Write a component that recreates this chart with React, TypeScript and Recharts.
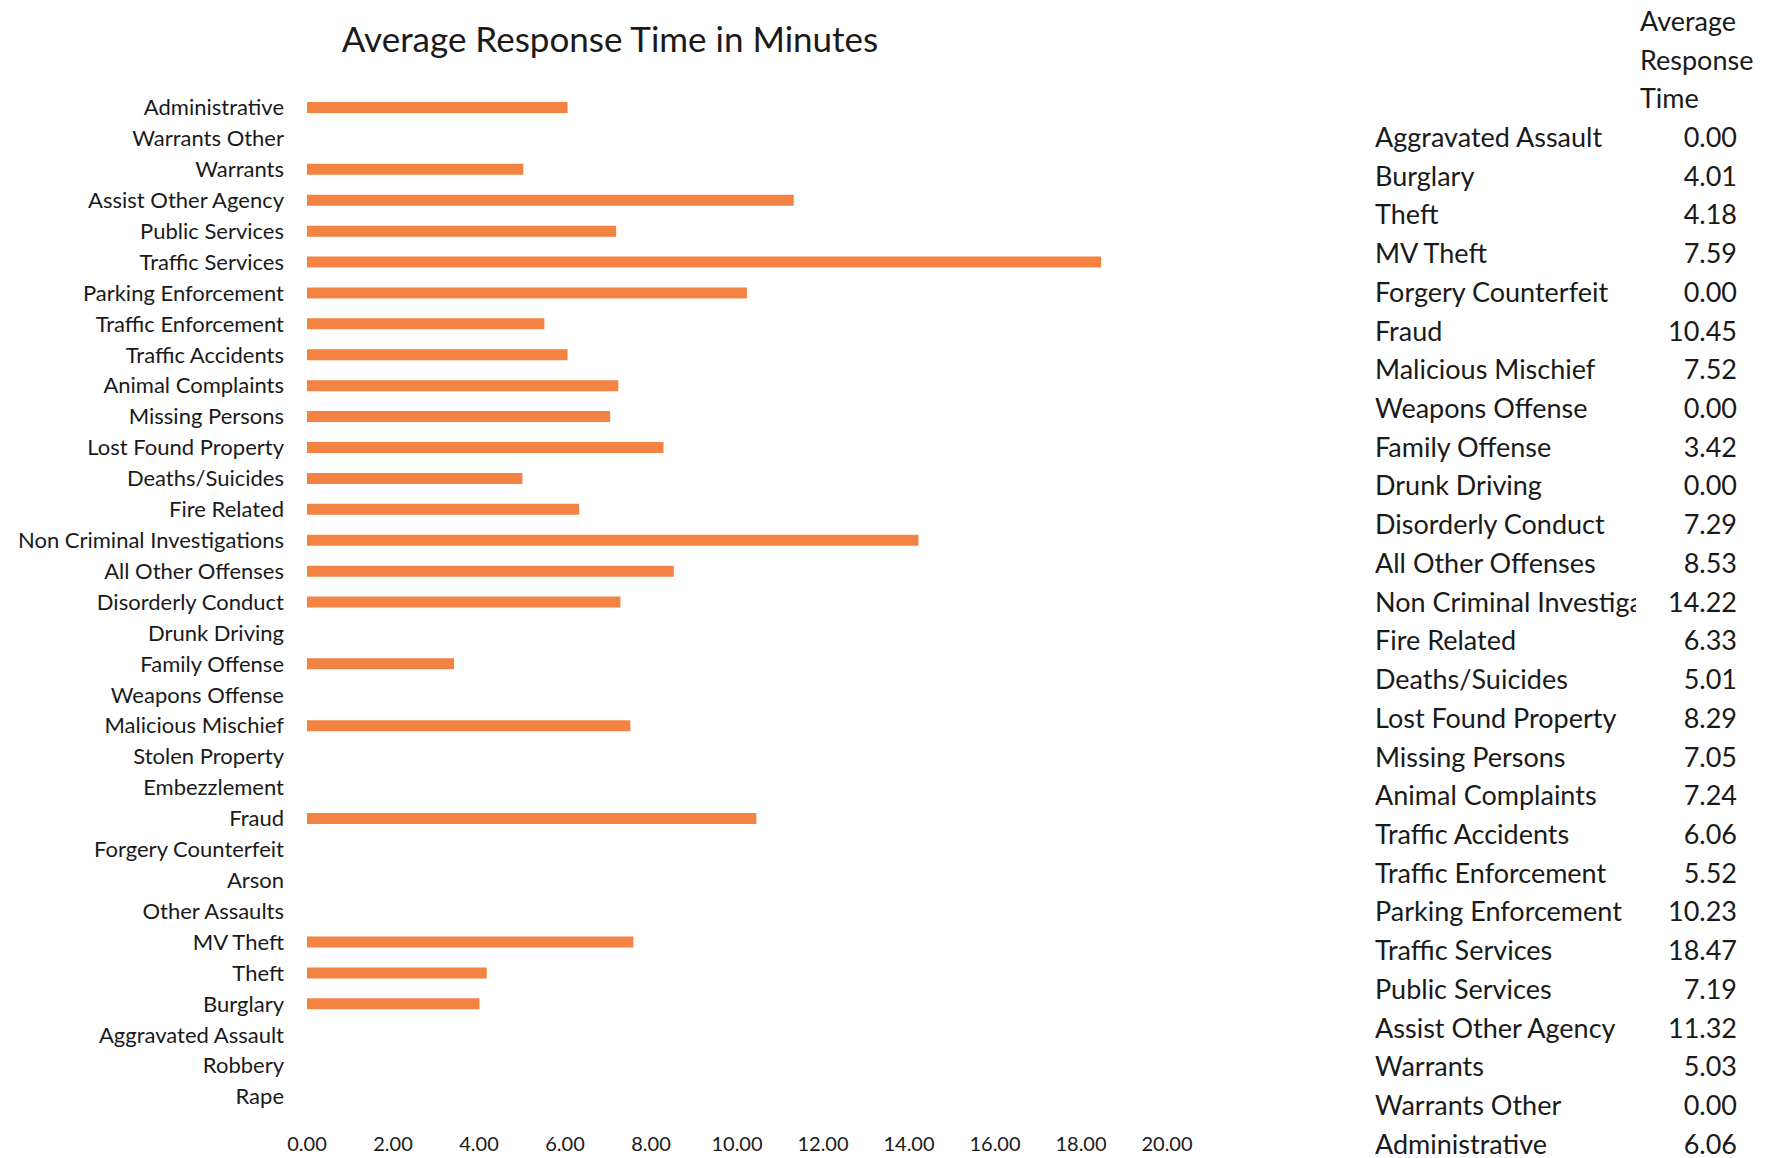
import React from "react";
import { BarChart, Bar, XAxis, YAxis } from "recharts";

// chart rows, top to bottom
const categories = [
  "Administrative", "Warrants Other", "Warrants", "Assist Other Agency", "Public Services",
  "Traffic Services", "Parking Enforcement", "Traffic Enforcement", "Traffic Accidents",
  "Animal Complaints", "Missing Persons", "Lost Found Property", "Deaths/Suicides",
  "Fire Related", "Non Criminal Investigations", "All Other Offenses", "Disorderly Conduct",
  "Drunk Driving", "Family Offense", "Weapons Offense", "Malicious Mischief", "Stolen Property",
  "Embezzlement", "Fraud", "Forgery Counterfeit", "Arson", "Other Assaults", "MV Theft",
  "Theft", "Burglary", "Aggravated Assault", "Robbery", "Rape",
];

const responseTimes = [
  6.06, 0, 5.03, 11.32, 7.19,
  18.47, 10.23, 5.52, 6.06,
  7.24, 7.05, 8.29, 5.01,
  6.33, 14.22, 8.53, 7.29,
  0, 3.42, 0, 7.52, 0,
  0, 10.45, 0, 0, 0, 7.59,
  4.18, 4.01, 0, 0, 0,
];

// rows shown in the side table, in its order
const tableCategories = [
  "Aggravated Assault", "Burglary", "Theft", "MV Theft", "Forgery Counterfeit", "Fraud",
  "Malicious Mischief", "Weapons Offense", "Family Offense", "Drunk Driving",
  "Disorderly Conduct", "All Other Offenses", "Non Criminal Investigations", "Fire Related",
  "Deaths/Suicides", "Lost Found Property", "Missing Persons", "Animal Complaints",
  "Traffic Accidents", "Traffic Enforcement", "Parking Enforcement", "Traffic Services",
  "Public Services", "Assist Other Agency", "Warrants", "Warrants Other", "Administrative",
];

const xTicks = [0, 2, 4, 6, 8, 10, 12, 14, 16, 18, 20];

const data = categories.map((name, i) => ({ name, value: responseTimes[i] }));

const FONT = "Lato, 'Open Sans', sans-serif";
const TEXT = "#1a1a1a";

export default function App() {
  return (
    <div
      style={{
        position: "absolute",
        left: 0,
        top: 0,
        width: 1771,
        height: 1158,
        background: "#fff",
        fontFamily: FONT,
        color: TEXT,
        overflow: "hidden",
      }}
    >
      <div
        style={{
          position: "absolute",
          left: 310,
          width: 600,
          top: 17,
          textAlign: "center",
          fontSize: 35,
          lineHeight: "42px",
        }}
      >
        Average Response Time in Minutes
      </div>

      <div style={{ position: "absolute", left: 0, top: 0 }}>
        <BarChart
          width={1200}
          height={1158}
          data={data}
          layout="vertical"
          margin={{ top: 92, right: 33, bottom: 0, left: 0 }}
          barCategoryGap={0}
        >
          <XAxis
            type="number"
            domain={[0, 20]}
            ticks={xTicks}
            tickFormatter={(v: number) => v.toFixed(2)}
            axisLine={false}
            tickLine={false}
            tickSize={0}
            tickMargin={25}
            height={46}
            interval={0}
            tick={{ fontSize: 20, fill: TEXT, fontFamily: FONT }}
          />
          <YAxis
            type="category"
            dataKey="name"
            width={307}
            axisLine={false}
            tickLine={false}
            tickSize={0}
            tickMargin={23}
            interval={0}
            tick={{ fontSize: 22, fill: TEXT, fontFamily: FONT }}
          />
          <Bar dataKey="value" fill="#F28343" barSize={11} isAnimationActive={false} />
        </BarChart>
      </div>

      <div
        style={{
          position: "absolute",
          left: 1640,
          top: 2,
          fontSize: 27,
          lineHeight: "38.5px",
        }}
      >
        Average
        <br />
        Response
        <br />
        Time
      </div>

      <div style={{ position: "absolute", left: 1375, top: 118, fontSize: 27 }}>
        {tableCategories.map((name) => (
          <div key={name} style={{ display: "flex", height: 38.73, lineHeight: "38.73px" }}>
            <div style={{ width: 261, overflow: "hidden", whiteSpace: "nowrap" }}>{name}</div>
            <div style={{ width: 101, textAlign: "right" }}>
              {responseTimes[categories.indexOf(name)].toFixed(2)}
            </div>
          </div>
        ))}
      </div>
    </div>
  );
}
